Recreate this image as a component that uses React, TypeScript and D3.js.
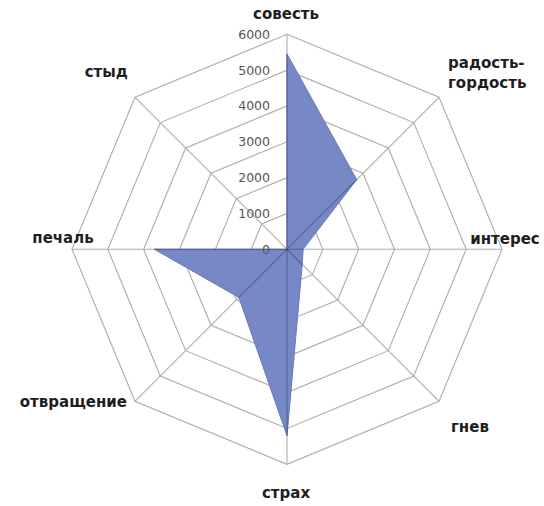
import * as d3 from "d3";

const categories = ["совесть", "радость-гордость", "интерес", "гнев", "страх", "отвращение", "печаль", "стыд"];
const values = [5450, 2750, 450, 600, 5200, 1900, 3700, 0];
const ticks = [0, 1000, 2000, 3000, 4000, 5000, 6000];

// label placement relative to each outer vertex
const labelLayout = [
  { dx: -1, dy: -20, anchor: "middle" },
  { dx: 9, dy: -34, anchor: "start" },
  { dx: 3, dy: -10, anchor: "middle" },
  { dx: 12, dy: 26, anchor: "start" },
  { dx: -1, dy: 29, anchor: "middle" },
  { dx: -8, dy: 1, anchor: "end" },
  { dx: -9, dy: -11, anchor: "middle" },
  { dx: -7, dy: -25, anchor: "end" },
];

const width = 544;
const height = 506;
const cx = 287;
const cy = 249.3;
const R = 215;

export default function App() {
  const r = d3.scaleLinear().domain([0, 6000]).range([0, R]);
  const step = (2 * Math.PI) / categories.length;

  const ring = d3
    .lineRadial<number>()
    .angle((_, i) => i * step)
    .radius((d) => r(d))
    .curve(d3.curveLinearClosed);

  const pt = (i: number, v: number): [number, number] => [
    r(v) * Math.sin(i * step),
    -r(v) * Math.cos(i * step),
  ];

  return (
    <svg
      width={width}
      height={height}
      style={{ position: "absolute", left: 0, top: 0, background: "#fff" }}
    >
      <g transform={`translate(${cx},${cy})`}>
        {ticks.slice(1).map((t) => (
          <path
            key={t}
            d={ring(categories.map(() => t)) || ""}
            fill="none"
            stroke="#adadad"
            strokeWidth={1.1}
          />
        ))}
        {categories.map((c, i) => {
          const [x, y] = pt(i, 6000);
          return <line key={c} x1={0} y1={0} x2={x} y2={y} stroke="#adadad" strokeWidth={1.1} />;
        })}
        <path d={ring(values) || ""} fill="#7788c6" stroke="#6878b8" strokeWidth={1} />
        {categories.map((c, i) => {
          const [x, y] = pt(i, values[i]);
          return (
            <line
              key={"o" + c}
              x1={0}
              y1={0}
              x2={x}
              y2={y}
              stroke="rgba(50,55,100,0.45)"
              strokeWidth={1.2}
            />
          );
        })}
      </g>
      {ticks.map((t) => (
        <text
          key={t}
          x={cx - 17}
          y={cy - r(t)}
          textAnchor="end"
          dominantBaseline="central"
          fontFamily="DejaVu Sans, sans-serif"
          fontSize={12.5}
          fill="#555"
        >
          {t}
        </text>
      ))}
      {categories.map((c, i) => {
        const [x0, y0] = pt(i, 6000);
        const x = cx + x0 + labelLayout[i].dx;
        const y = cy + y0 + labelLayout[i].dy;
        const parts = c.includes("-") ? [c.split("-")[0] + "-", c.split("-")[1]] : [c];
        return (
          <text
            key={c}
            x={x}
            y={y}
            textAnchor={labelLayout[i].anchor}
            dominantBaseline="central"
            fontFamily="DejaVu Sans, sans-serif"
            fontWeight="bold"
            fontSize={15}
            fill="#1e1e1e"
          >
            {parts.map((p, k) => (
              <tspan key={k} x={x} dy={k === 0 ? 0 : 20}>
                {p}
              </tspan>
            ))}
          </text>
        );
      })}
    </svg>
  );
}
